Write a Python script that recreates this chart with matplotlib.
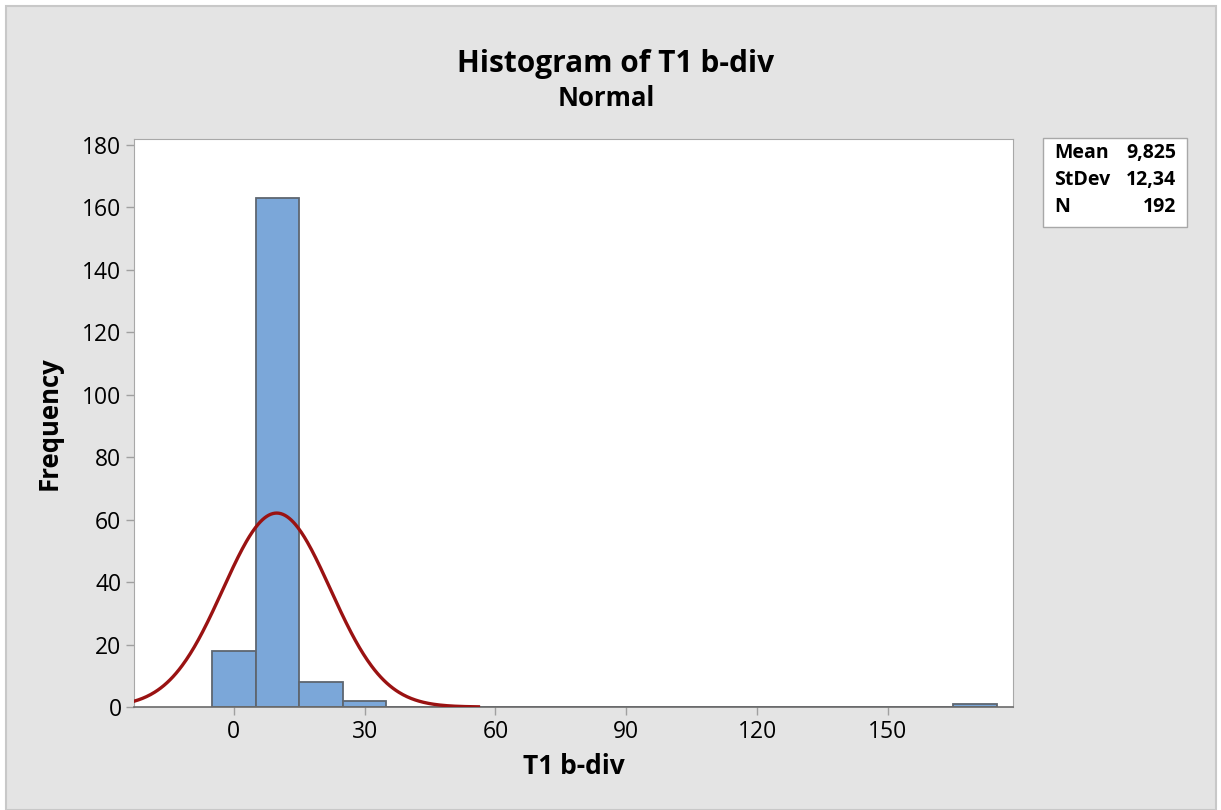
import numpy as np
import matplotlib.pyplot as plt
from matplotlib.patches import Rectangle

plt.rcParams['font.family'] = ['Open Sans', 'DejaVu Sans']

# histogram data (bin midpoints, width 10)
bin_mids = [0, 10, 20, 30, 40, 50, 60, 70, 80, 90, 100, 110, 120, 130, 140, 150, 160, 170]
counts = [18, 163, 8, 2, 0, 0, 0, 0, 0, 0, 0, 0, 0, 0, 0, 0, 0, 1]
bin_width = 10

# fitted normal
mean = 9.825
stdev = 12.34
n_obs = 192

xticks = [0, 30, 60, 90, 120, 150]
yticks = [0, 20, 40, 60, 80, 100, 120, 140, 160, 180]

W, H = 1221, 810
fig = plt.figure(figsize=(W / 100, H / 100), dpi=100)
fig.patch.set_facecolor('white')

# grey panel behind the chart
fig.patches.append(Rectangle((6 / W, 0), 1210 / W, 1 - 6 / H, transform=fig.transFigure,
                             facecolor='#e4e4e4', edgecolor='#c8c8c8', linewidth=1.5, zorder=-10))

ax = fig.add_axes([134 / W, 1 - 707 / H, (1013 - 134) / W, (707 - 139) / H])
ax.set_facecolor('white')
ax.set_zorder(1)

ax.bar(bin_mids, counts, width=bin_width, color='#7ba7d9', edgecolor='#5e6670',
       linewidth=1.3, zorder=2)

# normal fit curve scaled to counts
xs = np.linspace(mean - 3.8 * stdev, mean + 3.75 * stdev, 400)
ys = n_obs * bin_width / (stdev * np.sqrt(2 * np.pi)) * np.exp(-0.5 * ((xs - mean) / stdev) ** 2)
ax.plot(xs, ys, color='#9a1212', linewidth=2.4, zorder=3)

ax.set_xlim(-22.9, 178.7)
ax.set_ylim(0, 181.8)
ax.set_xticks(xticks)
ax.set_yticks(yticks)
ax.tick_params(axis='both', labelsize=16.5, length=6, width=1, color='#a0a0a0', pad=3)

for side in ['top', 'right', 'left']:
    ax.spines[side].set_color('#a8a8a8')
ax.spines['bottom'].set_color('#6a6a6a')
ax.spines['bottom'].set_linewidth(1.2)

ax.set_xlabel('T1 b-div', fontsize=19, fontweight='bold', labelpad=7)
ax.set_ylabel('Frequency', fontsize=18.5, fontweight='bold', labelpad=14)

fig.text(616 / W, 1 - 64 / H, 'Histogram of T1 b-div', ha='center', va='center',
         fontsize=21.5, fontweight='bold')
fig.text(606 / W, 1 - 99 / H, 'Normal', ha='center', va='center',
         fontsize=18.5, fontweight='bold')

# stats box
fig.patches.append(Rectangle((1043 / W, 1 - 227 / H), 144 / W, 89 / H, transform=fig.transFigure,
                             facecolor='white', edgecolor='#a8a8a8', linewidth=1, zorder=1))
rows = [('Mean', '9,825'), ('StDev', '12,34'), ('N', str(n_obs))]
for i, (lab, val) in enumerate(rows):
    y = 1 - (153 + i * 27) / H
    fig.text(1054 / W, y, lab, ha='left', va='center', fontsize=14, fontweight='bold')
    fig.text(1176 / W, y, val, ha='right', va='center', fontsize=14, fontweight='bold')

fig.savefig('out.png', dpi=100)
